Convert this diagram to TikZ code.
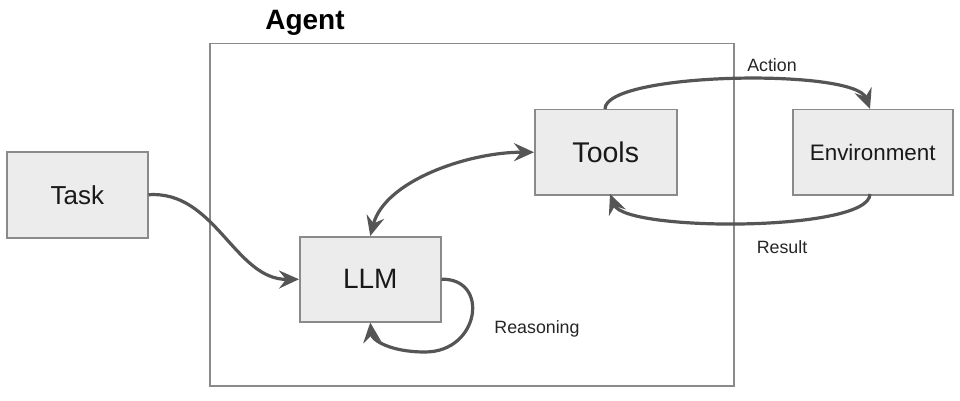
\documentclass[tikz,border=0pt]{standalone}
\usepackage{fontspec}
\setmainfont{Liberation Sans}
\usetikzlibrary{arrows.meta}
\definecolor{boxfill}{HTML}{ECECEC}
\definecolor{boxline}{HTML}{8A8A8A}
\definecolor{arrcol}{HTML}{555555}
\tikzset{
  blk/.style={draw=boxline, line width=1.5pt, fill=boxfill, minimum width=#1, minimum height=86pt, inner sep=0pt, anchor=north west},
  tip/.tip={Stealth[length=20pt,width=18pt,inset=7pt]},
  arr/.style={draw=arrcol, line width=3.2pt, -tip},
  darr/.style={draw=arrcol, line width=3.2pt, tip-tip},
  lbl/.style={font=\fontsize{17.8pt}{20pt}\selectfont, text=black!85},
  big/.style={font=\fontsize{#1}{30pt}\selectfont, text=black!90}
}
\begin{document}
\begin{tikzpicture}[x=1pt,y=-1pt]
\useasboundingbox (0,0) rectangle (960,401);
\fill[white] (0,0) rectangle (960,401);
% Agent box
\node[draw=boxline, line width=1.5pt, minimum width=524pt, minimum height=342pt, inner sep=0pt, anchor=north west] (agent) at (209,43) {};
\node[font=\bfseries\fontsize{28pt}{30pt}\selectfont] (agentlbl) at (305,23) {Agent};
% boxes
\node[blk=141pt] (task) at (6,151) {};
\node[big=26pt] (tasklbl) at (task.center) {Task};
\node[blk=141pt, minimum height=85pt] (llm) at (299,236) {};
\node[big=28pt] (llmlbl) at (llm.center) {LLM};
\node[blk=142pt, minimum height=85pt] (tools) at (534,109) {};
\node[big=28.5pt] (toolslbl) at (tools.center) {Tools};
\node[blk=160pt, minimum height=85pt] (env) at (792,109) {};
\node[font=\fontsize{22.4pt}{25pt}\selectfont, text=black!90] (envlbl) at (env.center) {Environment};
% connectors
\draw[arr] (task.east) .. controls (215,190) and (235,280) .. (llm.west);
\draw[darr] (llm.north) .. controls (385,180) and (470,152) .. (tools.west);
\draw[arr] (llm.east) .. controls (490,278) and (480,352) .. (425,352) .. controls (390,352) and (372,340) .. (llm.south);
\coordinate (ta) at (605,109);
\coordinate (ea) at (870,109);
\coordinate (eb) at (870,194);
\coordinate (tb) at (610,194);
\draw[arr] (ta) .. controls (605,72) and (855,68) .. (ea);
\draw[arr] (eb) .. controls (870,232) and (625,232) .. (tb);
% labels
\node[lbl] (action) at (772,65) {Action};
\node[lbl] (result) at (782,247) {Result};
\node[lbl] (reason) at (537,329) {Reasoning};
\end{tikzpicture}
\end{document}
